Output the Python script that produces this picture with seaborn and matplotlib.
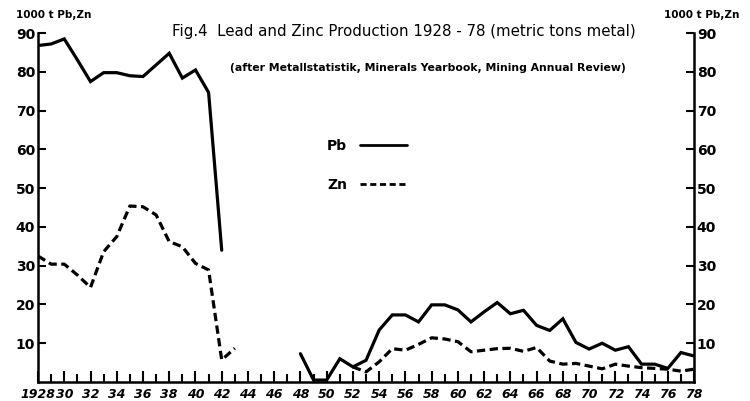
import numpy as np
import pandas as pd
import matplotlib.pyplot as plt
import seaborn as sns

# values (1000 t metal)
years_pre_pb = list(range(1928, 1943))
pb_pre = [86.8, 87.2, 88.5, 83.1, 77.5, 79.8, 79.8, 79.0, 78.8, 81.8, 84.8, 78.4, 80.5, 74.7, 34.0]

years_pre_zn = list(range(1928, 1944))
zn_pre = [32.5, 30.4, 30.4, 27.6, 24.4, 33.6, 37.5, 45.4, 45.2, 43.1, 36.2, 34.9, 30.6, 28.9, 5.7, 8.7]

years_post_pb = list(range(1948, 1979))
pb_post = [7.3, 0.5, 0.5, 6.0, 3.9, 5.6, 13.4, 17.3, 17.3, 15.5, 19.9, 19.9, 18.6, 15.5, 18.1, 20.5,
           17.6, 18.5, 14.6, 13.3, 16.3, 10.2, 8.5, 10.0, 8.2, 9.1, 4.6, 4.6, 3.5, 7.6, 6.7]

years_post_zn = list(range(1952, 1979))
zn_post = [3.9, 2.6, 5.2, 8.6, 8.2, 9.7, 11.4, 11.1, 10.4, 7.8, 8.2, 8.6, 8.7, 7.9, 8.9,
           5.4, 4.6, 4.8, 4.1, 3.4, 4.6, 4.1, 3.7, 3.5, 3.3, 2.8, 3.3]

xtick_years = list(range(1928, 1979, 2))
xtick_labels = ['1928'] + [str(y)[2:] for y in xtick_years[1:]]
ytick_vals = list(range(10, 100, 10))

sns.set_style('white')
plt.rcParams['font.family'] = ['DejaVu Sans']
plt.rcParams['font.weight'] = 'bold'
plt.rcParams['text.color'] = 'black'
plt.rcParams['xtick.color'] = 'black'
plt.rcParams['ytick.color'] = 'black'

fig = plt.figure(figsize=(7.5, 4.01), dpi=100)
ax = fig.add_axes([0.0507, 0.0474, 0.8747, 0.870])

dash = (0, (2.6, 1.4))
segments = [
    (years_pre_pb, pb_pre, '-'),
    (years_post_pb, pb_post, '-'),
    (years_pre_zn, zn_pre, dash),
    (years_post_zn, zn_post, dash),
]
for yrs, vals, ls in segments:
    seg = pd.DataFrame({'year': yrs, 'value': vals})
    sns.lineplot(data=seg, x='year', y='value', ax=ax, color='black',
                 linewidth=2.3, linestyle=ls, solid_joinstyle='miter')

ax.set_xlim(1928, 1978)
ax.set_ylim(0, 90)
ax.set_xlabel('')
ax.set_ylabel('')

ax.spines['top'].set_visible(False)
for side in ['left', 'right', 'bottom']:
    ax.spines[side].set_visible(True)
    ax.spines[side].set_color('black')
    ax.spines[side].set_linewidth(1.8)

ax.set_xticks(xtick_years)
ax.set_xticklabels(xtick_labels, fontstyle='italic', fontsize=9, fontweight='bold')
ax.set_xticks(range(1929, 1979, 2), minor=True)
ax.tick_params(axis='x', which='major', direction='in', length=8, width=1.5, pad=4, bottom=True)
ax.tick_params(axis='x', which='minor', direction='in', length=6, width=1.5, bottom=True)

ax.set_yticks(ytick_vals)
ax.set_yticklabels([str(v) for v in ytick_vals], fontsize=10, fontweight='bold')
ax.tick_params(axis='y', which='major', direction='in', length=6, width=1.5, pad=2,
               left=True, right=True, labelleft=True, labelright=True)

fig.text(0.022, 0.962, '1000 t Pb,Zn', fontsize=7.5, fontweight='bold', ha='left', va='center')
fig.text(0.986, 0.962, '1000 t Pb,Zn', fontsize=7.5, fontweight='bold', ha='right', va='center')

fig.text(0.538, 0.922, 'Fig.4  Lead and Zinc Production 1928 - 78 (metric tons metal)',
         fontsize=10.8, fontweight='normal', ha='center', va='center')
fig.text(0.571, 0.830, '(after Metallstatistik, Minerals Yearbook, Mining Annual Review)',
         fontsize=7.8, fontweight='bold', ha='center', va='center')

handles = [plt.Line2D([], [], color='black', linewidth=2.0),
           plt.Line2D([], [], color='black', linewidth=2.0, linestyle=(0, (2.2, 1.3)))]
ax.legend(handles, ['Pb', 'Zn'], loc='upper left', bbox_to_anchor=(0.419, 0.685),
          bbox_transform=fig.transFigure, frameon=False, markerfirst=False,
          handlelength=3.4, handletextpad=0.95, labelspacing=1.8,
          prop={'size': 10, 'weight': 'bold'})

fig.savefig('out.png', dpi=100, facecolor='white')
